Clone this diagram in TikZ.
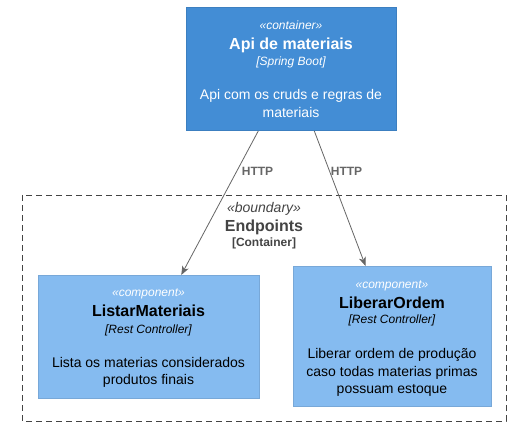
\documentclass[tikz,border=0pt]{standalone}
\usepackage{fontspec}
\setmainfont{Liberation Sans}
\usetikzlibrary{arrows.meta}
\definecolor{contfill}{HTML}{438DD5}
\definecolor{contline}{HTML}{3C7FC0}
\definecolor{compfill}{HTML}{85BBF0}
\definecolor{compline}{HTML}{78A8D8}
\definecolor{bndline}{HTML}{444444}
\definecolor{edgecol}{HTML}{666666}
\tikzset{
  box/.style={draw, line width=1pt, inner sep=0pt, outer sep=0pt, anchor=north west},
  contbox/.style={box, fill=contfill, draw=contline},
  compbox/.style={box, fill=compfill, draw=compline},
  txt/.style={inner sep=0pt, anchor=base},
  stereo/.style={txt, font=\fontsize{12}{14}\selectfont\itshape},
  bname/.style={txt, font=\fontsize{16}{19}\selectfont\bfseries},
  tech/.style={txt, font=\fontsize{12}{14}\selectfont\itshape},
  desc/.style={txt, font=\fontsize{14}{17}\selectfont},
  rel/.style={draw=edgecol, line width=0.8pt, -{Stealth[length=9pt,width=7pt,inset=2.5pt]}},
  rellabel/.style={inner sep=0pt, anchor=base west, text=edgecol, font=\fontsize{12}{14}\selectfont\bfseries},
}
\begin{document}
\begin{tikzpicture}[x=1pt,y=-1pt]
\useasboundingbox[fill=white] (0,0) rectangle (517,433);
% boundary
\draw[bndline, line width=0.8pt, dash pattern=on 6pt off 4pt] (22,195) rectangle (506,421);
\node[txt, text=bndline, font=\fontsize{14}{17}\selectfont\itshape] (bst) at (264,212.3) {«boundary»};
\node[txt, text=bndline, font=\fontsize{16}{19}\selectfont\bfseries] (bnm) at (264,231) {Endpoints};
\node[txt, text=bndline, font=\fontsize{12}{14}\selectfont\bfseries] (btc) at (264,246) {[Container]};
% container
\node[contbox, minimum width=210pt, minimum height=123pt] (cont) at (186,8) {};
\node[stereo, text=white] (cst) at (291,30) {«container»};
\node[bname, text=white] (cnm) at (291,50) {Api de materiais};
\node[tech, text=white] (ctc) at (291,66) {[Spring Boot]};
\node[desc, text=white] (cd1) at (291,100) {Api com os cruds e regras de};
\node[desc, text=white] (cd2) at (291,117.5) {materiais};
% ListarMateriais
\node[compbox, minimum width=221pt, minimum height=123pt] (listar) at (38,275) {};
\node[stereo, text=white] (lst) at (148.5,296.7) {«component»};
\node[bname] (lnm) at (148.5,316.7) {ListarMateriais};
\node[tech] (ltc) at (148.5,333.3) {[Rest Controller]};
\node[desc] (ld1) at (148.5,367.3) {Lista os materias considerados};
\node[desc] (ld2) at (148.5,384.3) {produtos finais};
% LiberarOrdem
\node[compbox, minimum width=198pt, minimum height=140pt] (liberar) at (293,266) {};
\node[stereo, text=white] (rst) at (392,288.3) {«component»};
\node[bname] (rnm) at (392,308.3) {LiberarOrdem};
\node[tech] (rtc) at (392,323.3) {[Rest Controller]};
\node[desc] (rd1) at (392,358.3) {Liberar ordem de produção};
\node[desc] (rd2) at (392,376) {caso todas materias primas};
\node[desc] (rd3) at (392,393.3) {possuam estoque};
% relations
\draw[rel] (cont) -- (listar);
\draw[rel] (cont) -- (liberar);
\node[rellabel] (h1) at (241.7,175.7) {HTTP};
\node[rellabel] (h2) at (330.7,175.7) {HTTP};
\end{tikzpicture}
\end{document}
